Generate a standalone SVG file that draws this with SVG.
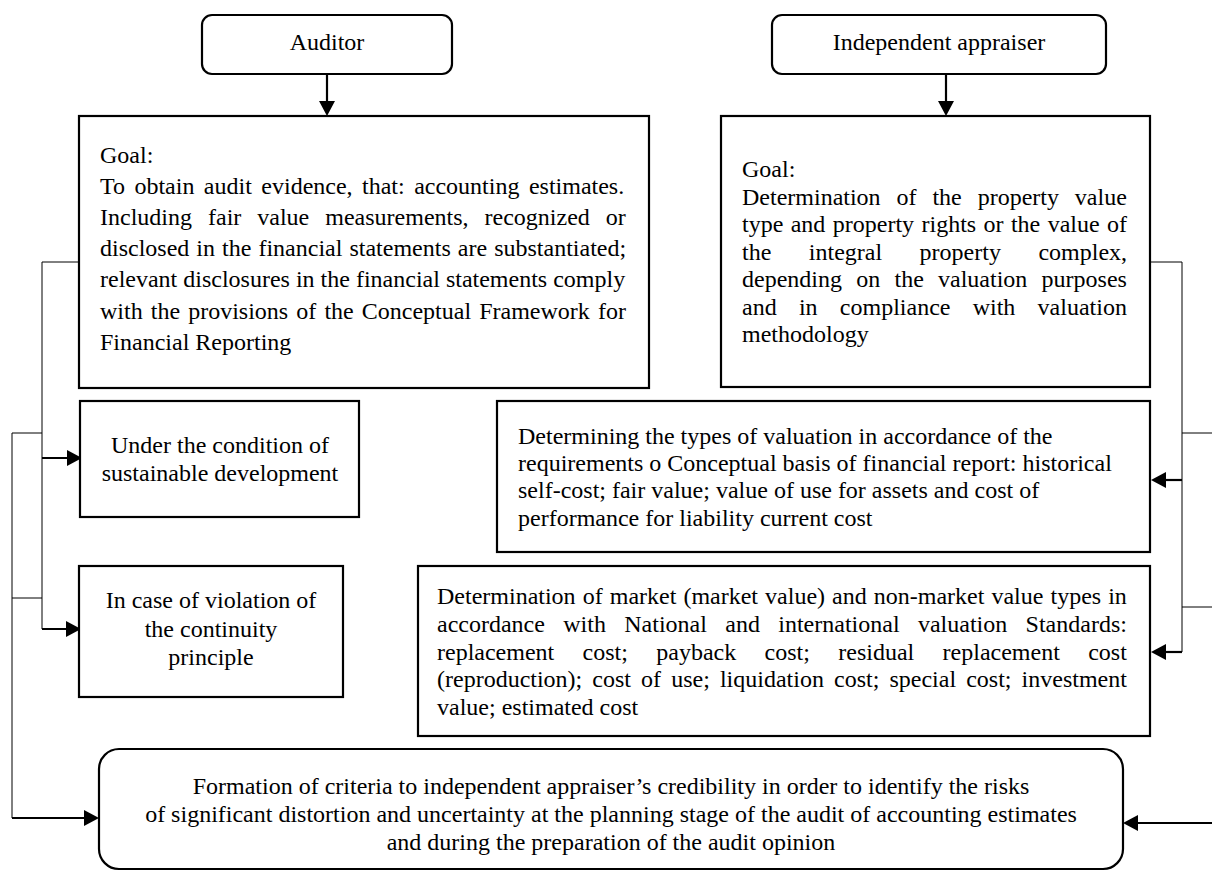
<svg xmlns="http://www.w3.org/2000/svg" width="1212" height="872" viewBox="0 0 1212 872">
<style>
  .box { fill: #ffffff; stroke: #000000; stroke-width: 2.2; }
  .t { font-family: "Liberation Serif", "Times New Roman", serif; font-size: 24px; fill: #000000; }
  .c { text-anchor: middle; }
  .thin { fill: none; stroke: #000000; stroke-width: 1; }
  .arr { fill: none; stroke: #000000; stroke-width: 2.2; marker-end: url(#ah); }
</style>
<defs>
  <marker id="ah" viewBox="0 0 15 16" refX="11" refY="8" markerWidth="15" markerHeight="16" markerUnits="userSpaceOnUse" orient="auto">
    <path d="M0,0 L15,8 L0,16 Z" fill="#000000"/>
  </marker>
</defs>
<rect width="1212" height="872" fill="#ffffff"/>

<g id="connectors">
  <!-- top arrows -->
  <line class="arr" x1="327" y1="74" x2="327" y2="112"/>
  <line class="arr" x1="946" y1="74" x2="946" y2="112"/>
  <!-- left inner bracket -->
  <polyline class="thin" points="80,262 42,262 42,629"/>
  <line class="arr" x1="42" y1="458" x2="78" y2="458"/>
  <line class="arr" x1="42" y1="629" x2="77" y2="629"/>
  <!-- left outer bracket -->
  <polyline class="thin" points="42,433 12,433 12,818"/>
  <line class="thin" x1="12" y1="598" x2="42" y2="598"/>
  <line class="arr" x1="12" y1="818" x2="95" y2="818"/>
  <!-- right bracket -->
  <polyline class="thin" points="1150,262 1182,262 1182,652"/>
  <line class="arr" x1="1182" y1="480" x2="1155" y2="480"/>
  <line class="arr" x1="1182" y1="652" x2="1155" y2="652"/>
  <line class="thin" x1="1182" y1="433" x2="1212" y2="433"/>
  <line class="thin" x1="1182" y1="607" x2="1212" y2="607"/>
  <line class="arr" x1="1212" y1="823" x2="1127" y2="823"/>
</g>

<g id="auditor">
  <rect class="box" x="202" y="15" width="250" height="59" rx="10"/>
  <text class="t c" x="327" y="50">Auditor</text>
</g>

<g id="appraiser">
  <rect class="box" x="772" y="15" width="334" height="59" rx="10"/>
  <text class="t c" x="939" y="50">Independent appraiser</text>
</g>

<g id="auditor-goal">
  <rect class="box" x="79" y="116" width="570" height="272"/>
  <text class="t" x="100" y="163">Goal:</text>
  <text class="t" x="100" y="194" style="word-spacing:3.45px">To obtain audit evidence, that: accounting estimates.</text>
  <text class="t" x="100" y="225" style="word-spacing:10px">Including fair value measurements, recognized or</text>
  <text class="t" x="100" y="256" style="word-spacing:1.05px">disclosed in the financial statements are substantiated;</text>
  <text class="t" x="100" y="287">relevant disclosures in the financial statements comply</text>
  <text class="t" x="100" y="319" style="word-spacing:2.1px">with the provisions of the Conceptual Framework for</text>
  <text class="t" x="100" y="350">Financial Reporting</text>
</g>

<g id="appraiser-goal">
  <rect class="box" x="721" y="116" width="429" height="271"/>
  <text class="t" x="742" y="177">Goal:</text>
  <text class="t" x="742" y="204.5" style="word-spacing:9.9px">Determination of the property value</text>
  <text class="t" x="742" y="232" style="word-spacing:1.4px">type and property rights or the value of</text>
  <text class="t" x="742" y="259.5" style="word-spacing:31.5px">the integral property complex,</text>
  <text class="t" x="742" y="287" style="word-spacing:8.25px">depending on the valuation purposes</text>
  <text class="t" x="742" y="314.5" style="word-spacing:16.25px">and in compliance with valuation</text>
  <text class="t" x="742" y="342">methodology</text>
</g>

<g id="sustainable">
  <rect class="box" x="80" y="401" width="279" height="116"/>
  <text class="t c" x="220" y="453">Under the condition of</text>
  <text class="t c" x="220" y="481">sustainable development</text>
</g>

<g id="continuity">
  <rect class="box" x="79" y="566" width="264" height="131"/>
  <text class="t c" x="211" y="608">In case of violation of</text>
  <text class="t c" x="211" y="637">the continuity</text>
  <text class="t c" x="211" y="665">principle</text>
</g>

<g id="valuation-types">
  <rect class="box" x="497" y="401" width="653" height="151"/>
  <text class="t" x="518" y="444">Determining the types of valuation in accordance of the</text>
  <text class="t" x="518" y="471">requirements o Conceptual basis of financial report: historical</text>
  <text class="t" x="518" y="498">self-cost; fair value; value of use for assets and cost of</text>
  <text class="t" x="518" y="526">performance for liability current cost</text>
</g>

<g id="market-types">
  <rect class="box" x="418" y="566" width="732" height="170"/>
  <text class="t" x="437" y="604" style="word-spacing:1.05px">Determination of market (market value) and non-market value types in</text>
  <text class="t" x="437" y="632" style="word-spacing:12.35px">accordance with National and international valuation Standards:</text>
  <text class="t" x="437" y="660" style="word-spacing:22.35px">replacement cost; payback cost; residual replacement cost</text>
  <text class="t" x="437" y="687" style="word-spacing:4.09px">(reproduction); cost of use; liquidation cost; special cost; investment</text>
  <text class="t" x="437" y="715">value; estimated cost</text>
</g>

<g id="criteria">
  <rect class="box" x="99" y="749" width="1024" height="120" rx="20"/>
  <text class="t c" x="611" y="794">Formation of criteria to independent appraiser’s credibility in order to identify the risks</text>
  <text class="t c" x="611" y="822">of significant distortion and uncertainty at the planning stage of the audit of accounting estimates</text>
  <text class="t c" x="611" y="850">and during the preparation of the audit opinion</text>
</g>
</svg>
